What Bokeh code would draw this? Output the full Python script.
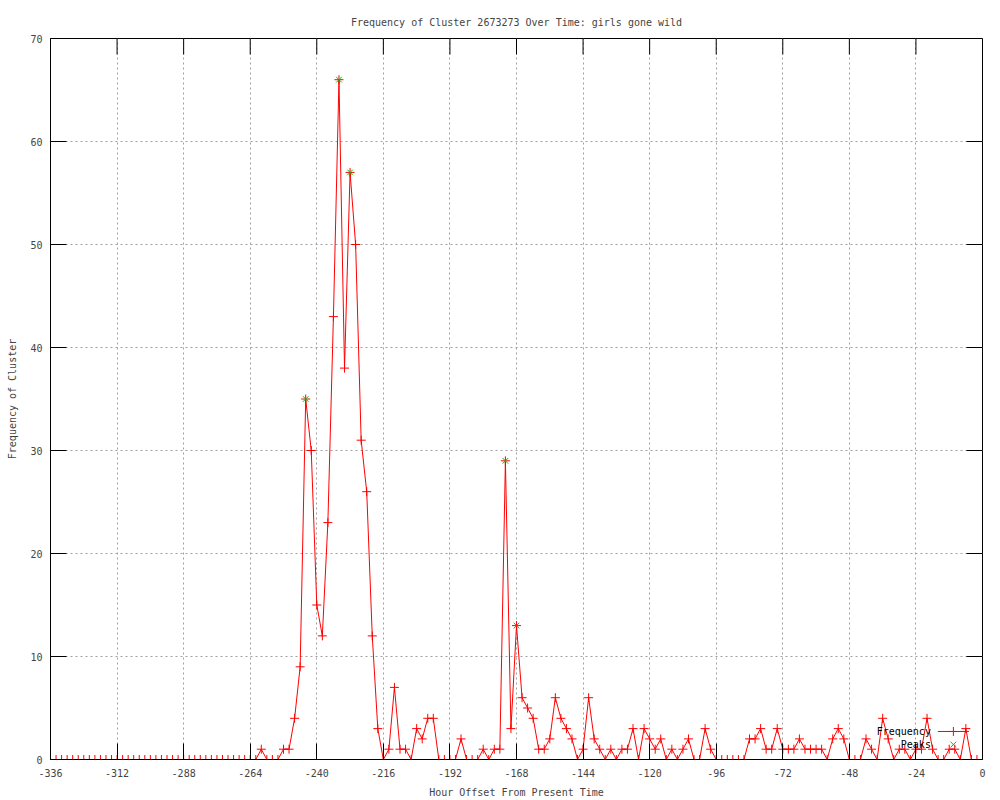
from bokeh.plotting import figure
from bokeh.models import Range1d, FixedTicker
from bokeh.embed import file_html
from bokeh.resources import INLINE

# ---- data ----
hours = list(range(-336, 0, 2))
freq = ([0] * 36 +
        [0, 0, 1, 0, 0, 0, 1, 1, 4, 9,          # -264 .. -246
         35, 30, 15, 12, 23, 43, 66, 38, 57, 50, # -244 .. -226
         31, 26, 12, 3, 0, 1, 7, 1, 1, 0,        # -224 .. -206
         3, 2, 4, 4, 0, 0, 0, 0, 2, 0,           # -204 .. -186
         0, 0, 1, 0, 1, 1, 29, 3, 13, 6,         # -184 .. -166
         5, 4, 1, 1, 2, 6, 4, 3, 2, 0,           # -164 .. -146
         1, 6, 2, 1, 0, 1, 0, 1, 1, 3,           # -144 .. -126
         0, 3, 2, 1, 2, 0, 1, 0, 1, 2,           # -124 .. -106
         0, 0, 3, 1, 0, 0, 0, 0, 0, 0,           # -104 .. -86
         2, 2, 3, 1, 1, 3, 1, 1, 1, 2,           # -84 .. -66
         1, 1, 1, 1, 0, 2, 3, 2, 0, 0,           # -64 .. -46
         0, 2, 1, 0, 4, 2, 0, 1, 1, 0,           # -44 .. -26
         1, 1, 4, 1, 0, 0, 1, 1, 0, 3,           # -24 .. -6
         0, 0])                                  # -4 .. -2
peak_hours = [-244, -232, -228, -172, -168]
peak_vals = [35, 66, 57, 29, 13]

x_ticks = list(range(-336, 1, 24))
y_ticks = list(range(0, 71, 10))

title = "Frequency of Cluster 2673273 Over Time: girls gone wild"
x_label = "Hour Offset From Present Time"
y_label = "Frequency of Cluster"
legend_names = ["Frequency", "Peaks"]

FONT = "DejaVu Sans Mono"

# ---- layout ----
W, H = 998, 800
B_LEFT, B_TOP, B_RIGHT, B_BOTTOM = 50, 38, 16, 40
FRAME_W = W - B_LEFT - B_RIGHT
FRAME_H = H - B_TOP - B_BOTTOM
X0, X1, Y0, Y1 = -336, 0, 0, 70
TICK_PX = 16

p = figure(width=W, height=H, output_backend="svg", toolbar_location=None,
           x_range=Range1d(X0, X1), y_range=Range1d(Y0, Y1),
           min_border_left=B_LEFT, min_border_right=B_RIGHT, min_border_top=B_TOP,
           min_border_bottom=B_BOTTOM, title=title, x_axis_label=x_label,
           y_axis_label=y_label)
p.background_fill_color = "white"
p.border_fill_color = "white"
p.outline_line_color = "black"
p.outline_line_width = 1

p.title.align = "center"
p.title.text_font = FONT
p.title.text_font_size = "10px"
p.title.text_font_style = "normal"
p.title.standoff = 21

for ax in (p.xaxis[0], p.yaxis[0]):
    ax.major_label_text_font = FONT
    ax.major_label_text_font_size = "10px"
    ax.axis_label_text_font = FONT
    ax.axis_label_text_font_size = "10px"
    ax.axis_label_text_font_style = "normal"
    ax.major_tick_in = TICK_PX
    ax.major_tick_out = 0
    ax.minor_tick_in = 0
    ax.minor_tick_out = 0
    ax.axis_line_color = "black"
    ax.major_tick_line_color = "black"

p.xaxis[0].ticker = FixedTicker(ticks=x_ticks)
p.yaxis[0].ticker = FixedTicker(ticks=y_ticks)
p.xaxis[0].major_label_overrides = {t: str(t) for t in x_ticks}
p.yaxis[0].major_label_overrides = {t: str(t) for t in y_ticks}
p.xaxis[0].major_label_standoff = 9
p.xaxis[0].axis_label_standoff = 7
p.yaxis[0].major_label_standoff = 8
p.yaxis[0].axis_label_standoff = 9

p.xgrid.ticker = FixedTicker(ticks=x_ticks)
p.ygrid.ticker = FixedTicker(ticks=y_ticks)
for g in (p.xgrid[0], p.ygrid[0]):
    g.grid_line_color = "#a0a0a0"
    g.grid_line_dash = "2 3"
    g.grid_line_width = 1

# mirrored ticks on top and right borders
dy = TICK_PX * (Y1 - Y0) / FRAME_H
dx = TICK_PX * (X1 - X0) / FRAME_W
p.segment(x0=x_ticks, y0=[Y1] * len(x_ticks), x1=x_ticks, y1=[Y1 - dy] * len(x_ticks),
          line_color="black", line_width=1)
p.segment(x0=[X1] * len(y_ticks), y0=y_ticks, x1=[X1 - dx] * len(y_ticks), y1=y_ticks,
          line_color="black", line_width=1)

p.line(hours, freq, line_color="red", line_width=1)
p.scatter(hours, freq, marker="cross", size=9, line_color="red", line_width=1)
p.scatter(peak_hours, peak_vals, marker="x", size=8, line_color="#00c000", line_width=1)

# legend (layout positions, in data units)
p.text(x=[-18.6, -18.6], y=[2.72, 1.45], text=legend_names, text_align="right",
       text_baseline="middle", text_font_size="10px", text_color="black",
       text_font={"value": FONT})
p.segment(x0=[-16.1], y0=[2.72], x1=[-4.9], y1=[2.72], line_color="red", line_width=1)
p.scatter([-10.5], [2.72], marker="cross", size=9, line_color="red")
p.scatter([-10.5], [1.45], marker="x", size=8, line_color="#00c000")

open("out.html", "w").write(file_html(p, INLINE))
